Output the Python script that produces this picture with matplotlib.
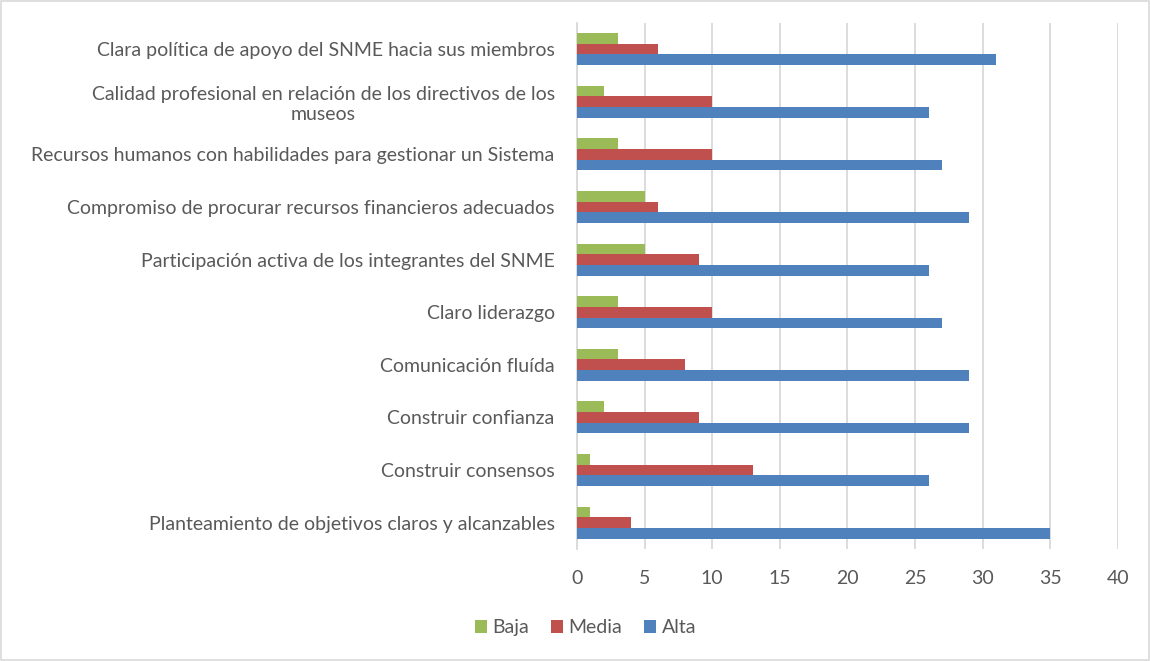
import matplotlib
matplotlib.use("Agg")
import matplotlib.pyplot as plt
import numpy as np

# categories listed bottom to top, like the excel sheet
categories = [
    "Planteamiento de objetivos claros y alcanzables",
    "Construir consensos",
    "Construir confianza",
    "Comunicación fluída",
    "Claro liderazgo",
    "Participación activa de los integrantes del SNME",
    "Compromiso de procurar recursos financieros adecuados",
    "Recursos humanos con habilidades para gestionar un Sistema",
    "Calidad profesional en relación de los directivos de los\nmuseos",
    "Clara política de apoyo del SNME hacia sus miembros",
]
baja = [1, 1, 2, 3, 3, 5, 5, 3, 2, 3]
media = [4, 13, 9, 8, 10, 9, 6, 10, 10, 6]
alta = [35, 26, 29, 29, 27, 26, 29, 27, 26, 31]
x_ticks = [0, 5, 10, 15, 20, 25, 30, 35, 40]

text_color = "#595959"
plt.rcParams['font.family'] = ['Lato', 'DejaVu Sans']

fig = plt.figure(figsize=(11.5, 6.61), dpi=100)
ax = fig.add_axes([0.5017, 0.1694, 0.4705, 0.7963])

y = np.arange(len(categories))
h = 0.203
ax.barh(y + h, baja, height=h, color="#9BBB59", label="Baja", zorder=3)
ax.barh(y, media, height=h, color="#C0504D", label="Media", zorder=3)
ax.barh(y - h, alta, height=h, color="#4F81BD", label="Alta", zorder=3)

ax.set_xlim(0, 40)
ax.set_ylim(-0.5, len(categories) - 0.5)
ax.set_xticks(x_ticks)
ax.set_yticks(y)
ax.set_yticklabels(categories, multialignment="center")
ax.tick_params(axis="both", length=0, labelsize=14, colors=text_color)
ax.tick_params(axis="y", pad=16)
ax.tick_params(axis="x", pad=15)

ax.grid(axis="x", color="#D9D9D9", linewidth=1.3, zorder=0)
for side in ["top", "right", "bottom"]:
    ax.spines[side].set_visible(False)
ax.spines["left"].set_color("#D9D9D9")
ax.spines["left"].set_linewidth(1.3)

leg = fig.legend(loc="center", bbox_to_anchor=(0.509, 0.05), ncol=3, frameon=False,
                 fontsize=14, handlelength=0.62, handleheight=0.62,
                 handletextpad=0.3, columnspacing=1.1)
for t in leg.get_texts():
    t.set_color(text_color)

# light border round the chart area
fig.patches.append(plt.Rectangle((0.001, 0.001), 0.998, 0.998, transform=fig.transFigure,
                                 fill=False, edgecolor="#D9D9D9", linewidth=1.2))

fig.savefig("out.png", dpi=100)
